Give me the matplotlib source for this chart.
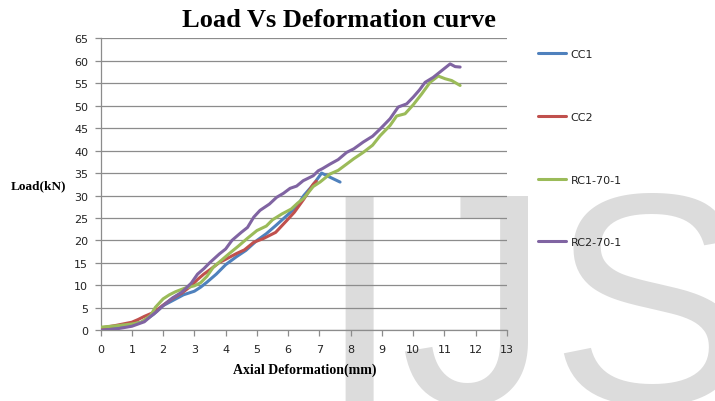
import matplotlib
matplotlib.use('Agg')
import matplotlib.pyplot as plt

# values (deformation in mm, load in kN)
cc1_x = [0, 0.5, 1.0, 1.3, 1.5, 1.7, 2.0, 2.3, 2.65, 3.0, 3.2, 3.4, 3.7, 4.0, 4.35, 4.65,
         5.0, 5.3, 5.6, 6.0, 6.3, 6.5, 6.8, 7.07, 7.3, 7.66]
cc1_y = [0.3, 0.8, 1.4, 1.8, 2.6, 3.6, 5.5, 6.6, 7.9, 8.7, 9.6, 10.7, 12.5, 14.6, 16.4, 17.8,
         20.0, 21.5, 23.3, 25.8, 27.8, 30.0, 32.4, 35.0, 34.2, 33.0]

cc2_x = [0, 0.5, 1.0, 1.2, 1.4, 1.7, 2.0, 2.3, 2.6, 2.9, 3.1, 3.3, 3.5, 3.8, 4.0, 4.35, 4.6,
         4.9, 5.2, 5.4, 5.6, 5.95, 6.2, 6.5, 6.8, 6.9]
cc2_y = [0.5, 1.1, 1.8, 2.4, 3.1, 4.0, 5.6, 7.1, 8.3, 9.9, 11.3, 12.5, 13.5, 15.1, 15.8, 17.1, 17.9,
         19.6, 20.4, 21.1, 21.8, 24.4, 26.3, 29.2, 32.5, 33.2]

rc1_x = [0, 0.5, 1.0, 1.3, 1.6, 1.75, 2.0, 2.2, 2.4, 2.7, 3.0, 3.2, 3.4, 3.6, 3.85, 4.1, 4.4,
         4.7, 5.0, 5.3, 5.5, 5.8, 6.1, 6.3, 6.5, 6.8, 7.02, 7.34, 7.6, 7.87, 8.1, 8.4, 8.7,
         8.94, 9.26, 9.47, 9.74, 10.0, 10.27, 10.54, 10.8, 11.02, 11.23, 11.5]
rc1_y = [0.7, 1.0, 1.4, 1.8, 3.3, 5.1, 7.0, 7.9, 8.6, 9.4, 9.9, 10.6, 12.0, 14.0, 15.5, 17.0, 18.7,
         20.5, 22.2, 23.2, 24.6, 25.9, 27.0, 28.3, 29.4, 32.0, 33.0, 34.8, 35.6, 37.0, 38.2, 39.6, 41.2,
         43.3, 45.6, 47.7, 48.2, 50.2, 52.6, 55.2, 56.6, 56.0, 55.6, 54.5]

rc2_x = [0, 0.5, 1.0, 1.4, 1.6, 1.8, 2.0, 2.3, 2.6, 2.9, 3.1, 3.3, 3.5, 3.8, 4.0, 4.2, 4.5,
         4.7, 4.9, 5.1, 5.4, 5.63, 5.85, 6.06, 6.27, 6.48, 6.8, 6.96, 7.1, 7.34, 7.6, 7.87,
         8.1, 8.4, 8.7, 8.94, 9.26, 9.52, 9.79, 10.0, 10.2, 10.38, 10.64, 10.91, 11.18, 11.34, 11.5]
rc2_y = [0.0, 0.3, 0.9, 1.9, 3.1, 4.2, 5.5, 7.2, 8.5, 10.5, 12.5, 13.7, 15.1, 17.0, 18.1, 20.0, 21.8,
         22.9, 25.2, 26.7, 28.1, 29.6, 30.5, 31.6, 32.1, 33.3, 34.4, 35.5, 36.0, 37.0, 38.0, 39.6,
         40.4, 41.9, 43.2, 44.8, 47.1, 49.7, 50.4, 51.9, 53.5, 55.2, 56.3, 57.8, 59.3, 58.7, 58.6]

labels = ['CC1', 'CC2', 'RC1-70-1', 'RC2-70-1']
colors = ['#4F81BD', '#C0504D', '#9BBB59', '#8064A2']
x_ticks = list(range(0, 14))
y_ticks = list(range(0, 70, 5))

fig = plt.figure(figsize=(7.15, 4.02), dpi=100)
ax = fig.add_axes([100.6 / 715, 1 - 331.3 / 402, (507 - 100.6) / 715, (331.3 - 39.3) / 402])
ax.patch.set_visible(False)

# watermark behind everything
fig.text(317 / 715, 1 - 403 / 402, 'IJS', family='Liberation Sans', fontsize=216,
         color='#dcdcdc', ha='left', va='baseline', zorder=-5)

series = [(cc1_x, cc1_y), (cc2_x, cc2_y), (rc1_x, rc1_y), (rc2_x, rc2_y)]
lines = []
for (xs, ys), lab, col in zip(series, labels, colors):
    ln, = ax.plot(xs, ys, color=col, lw=2.2, label=lab, solid_capstyle='round',
                  solid_joinstyle='round', zorder=3)
    lines.append(ln)

ax.set_xlim(0, 13)
ax.set_ylim(0, 65)
ax.set_xticks(x_ticks)
ax.set_yticks(y_ticks)
ax.yaxis.grid(True, color='#8c8c8c', lw=0.9)
ax.set_axisbelow(True)
for s in ['top', 'right']:
    ax.spines[s].set_visible(False)
for s in ['left', 'bottom']:
    ax.spines[s].set_color('#8c8c8c')
    ax.spines[s].set_linewidth(0.9)
ax.tick_params(axis='both', colors='#8c8c8c', labelcolor='#222222', labelsize=8,
               length=4, width=0.9, direction='out')
ax.tick_params(axis='x', pad=6)
ax.tick_params(axis='y', pad=5)

fig.text(339 / 715, 1 - 27 / 402, 'Load Vs Deformation curve', family='Liberation Serif',
         fontweight='bold', fontsize=19, ha='center', va='baseline')
fig.text(11 / 715, 1 - 186 / 402, 'Load(kN)', family='Liberation Serif',
         fontweight='bold', fontsize=9.5, ha='left', va='center')
fig.text(304.5 / 715, 1 - 374 / 402, 'Axial Deformation(mm)', family='Liberation Serif',
         fontweight='bold', fontsize=10, ha='center', va='baseline')

fig.legend(lines, labels, loc='upper left', bbox_to_anchor=(538 / 715, 1 - 50 / 402),
           frameon=False, fontsize=8, borderpad=0, borderaxespad=0, handlelength=2.5,
           handletextpad=0.45, labelspacing=4.75, labelcolor='#222222')

fig.savefig('out.png', dpi=100)
